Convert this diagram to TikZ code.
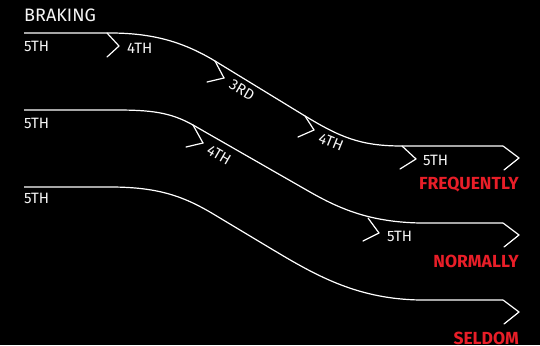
\documentclass[tikz,border=0pt]{standalone}
\usepackage{fontspec}
\setmainfont{Fira Sans}
\usepackage{tkz-euclide}
\definecolor{brakered}{RGB}{232,30,40}
\tikzset{
  road/.style={white,line width=1.2pt},
  gearmark/.style={white,line width=1.2pt},
  gearlabel/.style={white!92!gray,inner sep=0pt,font=\fontsize{15}{15}\selectfont},
  uselabel/.style={brakered,inner sep=0pt,anchor=base east,font=\bfseries\fontsize{17.5}{18}\selectfont},
}

\begin{document}
\begin{tikzpicture}[x=1pt,y=-1pt]
                \fill[black] (0,0) rectangle (540,345);
                \useasboundingbox (0,0) rectangle (540,345);

                \node[gearlabel,anchor=base west,font=\fontsize{18}{18}\selectfont] (braking) at (24,22) {BRAKING};

                % the three roads
                \draw[road] (24,33) -- (110,33) .. controls (155,33) and (185,43) .. (215,61)
                  -- (305,116) .. controls (340,137) and (360,146) .. (402,146) -- (503,146);
                \draw[road] (24,110) -- (115,110) .. controls (150,110) and (170,112) .. (193,125)
                  -- (310,192) .. controls (340,209) and (370,222) .. (420,223) -- (503,223);
                \draw[road] (24,187) -- (110,187) .. controls (160,187) and (185,197) .. (215,215)
                  -- (275,251) .. controls (320,278) and (360,299) .. (420,300) -- (503,300);

                % gear changes, first road
                \tkzDefPoint(107,33){a1}
                \tkzDefPoint(119,46){a2}
                \tkzDefPoint(107,57){a3}
                \tkzDrawSegments[gearmark](a1,a2 a2,a3)

                \tkzDefPoint(215,61){b1}
                \tkzDefPoint(224,78){b2}
                \tkzDefPoint(207,82){b3}
                \tkzDrawSegments[gearmark](b1,b2 b2,b3)

                \tkzDefPoint(305,116){c1}
                \tkzDefPoint(314,130){c2}
                \tkzDefPoint(298,137){c3}
                \tkzDrawSegments[gearmark](c1,c2 c2,c3)

                \tkzDefPoint(402,146){d1}
                \tkzDefPoint(416,159){d2}
                \tkzDefPoint(400,169){d3}
                \tkzDrawSegments[gearmark](d1,d2 d2,d3)

                \tkzDefPoint(503,146){e1}
                \tkzDefPoint(519,158){e2}
                \tkzDefPoint(504,170){e3}
                \tkzDrawSegments[gearmark](e1,e2 e2,e3)

                % second road
                \tkzDefPoint(193,125){f1}
                \tkzDefPoint(203,143){f2}
                \tkzDefPoint(186,147){f3}
                \tkzDrawSegments[gearmark](f1,f2 f2,f3)

                \tkzDefPoint(368,218){g1}
                \tkzDefPoint(379,233){g2}
                \tkzDefPoint(363,241){g3}
                \tkzDrawSegments[gearmark](g1,g2 g2,g3)

                \tkzDefPoint(503,223){h1}
                \tkzDefPoint(519,235){h2}
                \tkzDefPoint(504,247){h3}
                \tkzDrawSegments[gearmark](h1,h2 h2,h3)

                % third road
                \tkzDefPoint(503,300){k1}
                \tkzDefPoint(519,312){k2}
                \tkzDefPoint(504,324){k3}
                \tkzDrawSegments[gearmark](k1,k2 k2,k3)

                % gear labels
                \node[gearlabel,anchor=base west] (fifthA) at (24,52) {5TH};
                \node[gearlabel,anchor=base west] (fourthA) at (127,53) {4TH};
                \node[gearlabel,rotate=-30] (thirdA) at (242,90) {3RD};
                \node[gearlabel,rotate=-22] (fourthAA) at (331,142) {4TH};
                \node[gearlabel,anchor=base west] (fifthAA) at (423,165) {5TH};

                \node[gearlabel,anchor=base west] (fifthB) at (24,128) {5TH};
                \node[gearlabel,rotate=-30] (fourthB) at (219,155) {4TH};
                \node[gearlabel,anchor=base west] (fifthBB) at (387,241) {5TH};

                \node[gearlabel,anchor=base west] (fifthC) at (24,203) {5TH};

                \node[uselabel] (frequently) at (519,189) {FREQUENTLY};
                \node[uselabel] (normally) at (519,267) {NORMALLY};
                \node[uselabel] (seldom) at (519,344) {SELDOM};
            \end{tikzpicture}
\end{document}
